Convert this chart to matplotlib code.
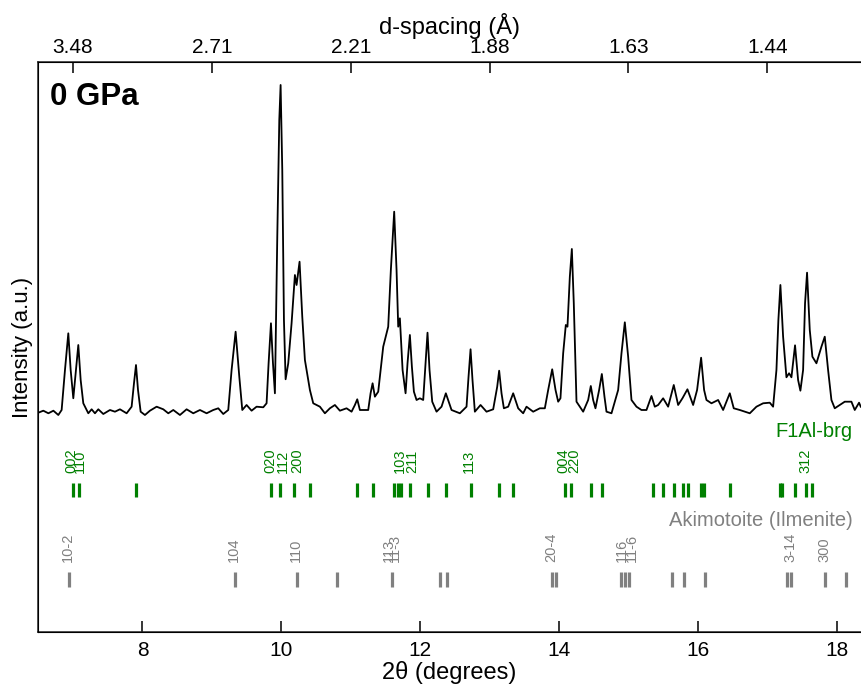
import matplotlib
matplotlib.use("Agg")
import matplotlib.pyplot as plt

plt.rcParams['font.family'] = ['Liberation Sans', 'DejaVu Sans']

# diffraction pattern (2theta in degrees, intensity a.u.)
tt = [6.500, 6.572, 6.645, 6.717, 6.788, 6.836, 6.884, 6.932, 6.966, 7.004,
      7.043, 7.076, 7.110, 7.148, 7.220, 7.268, 7.316, 7.364, 7.436, 7.532,
      7.604, 7.676, 7.772, 7.844, 7.878, 7.907, 7.936, 7.974, 8.036, 8.108,
      8.204, 8.300, 8.372, 8.444, 8.540, 8.636, 8.732, 8.828, 8.924, 9.020,
      9.092, 9.164, 9.236, 9.284, 9.342, 9.395, 9.438, 9.500, 9.572, 9.644,
      9.740, 9.788, 9.817, 9.851, 9.880, 9.908, 9.942, 9.971, 9.990, 10.014,
      10.038, 10.062, 10.100, 10.148, 10.196, 10.220, 10.263, 10.302, 10.340, 10.412,
      10.460, 10.556, 10.628, 10.700, 10.772, 10.844, 10.940, 11.012, 11.060, 11.094,
      11.132, 11.204, 11.252, 11.286, 11.315, 11.348, 11.396, 11.468, 11.540, 11.578,
      11.626, 11.660, 11.684, 11.708, 11.747, 11.790, 11.818, 11.852, 11.881, 11.910,
      11.948, 11.996, 12.044, 12.077, 12.106, 12.135, 12.174, 12.236, 12.308, 12.370,
      12.452, 12.572, 12.668, 12.697, 12.726, 12.754, 12.788, 12.870, 12.956, 13.052,
      13.110, 13.138, 13.172, 13.206, 13.268, 13.340, 13.412, 13.484, 13.532, 13.628,
      13.724, 13.796, 13.844, 13.902, 13.950, 13.988, 14.021, 14.060, 14.098, 14.122,
      14.156, 14.185, 14.213, 14.252, 14.348, 14.420, 14.458, 14.492, 14.525, 14.578,
      14.617, 14.655, 14.684, 14.756, 14.852, 14.900, 14.948, 14.996, 15.044, 15.116,
      15.188, 15.260, 15.332, 15.380, 15.428, 15.500, 15.572, 15.653, 15.716, 15.778,
      15.850, 15.932, 15.989, 16.047, 16.090, 16.124, 16.196, 16.292, 16.364, 16.460,
      16.517, 16.604, 16.748, 16.844, 16.940, 17.036, 17.084, 17.132, 17.160, 17.189,
      17.228, 17.276, 17.314, 17.348, 17.400, 17.444, 17.477, 17.516, 17.544, 17.573,
      17.612, 17.650, 17.708, 17.780, 17.828, 17.876, 17.924, 17.972, 18.044, 18.116,
      18.212, 18.260, 18.322, 18.346]
inten = [-1.7, 0.3, -2.3, 0.3, -4.0, 1.0, 41.0, 77.7, 41.0, 12.7,
         41.0, 66.0, 31.0, 7.7, -2.3, 1.7, -2.3, 1.7, -3.0, 1.0,
         -0.7, 1.7, -2.3, 4.3, 27.7, 46.0, 21.0, -0.7, -4.0, 0.3,
         4.3, 1.7, -2.3, 1.0, -4.0, 1.7, -2.3, 1.0, -2.3, 1.0,
         2.7, -3.0, 1.0, 41.0, 79.3, 34.3, 1.0, 6.0, 0.3, 4.3,
         3.7, 7.7, 47.7, 87.7, 47.7, 17.7, 174.0, 291.0, 326.0, 241.0,
         91.0, 31.7, 47.7, 87.7, 136.0, 126.0, 149.3, 94.3, 51.0, 21.0,
         7.7, 4.3, -2.3, 2.7, 6.0, 0.3, 2.7, -0.7, 6.0, 11.7,
         1.0, 1.0, 1.0, 17.7, 27.7, 14.3, 19.3, 64.3, 84.3, 141.0,
         199.3, 141.0, 84.3, 92.7, 41.0, 17.7, 47.7, 76.0, 44.3, 19.3,
         11.0, 12.7, 11.0, 47.7, 78.3, 41.0, 9.3, -0.7, 4.3, 17.7,
         1.0, -2.3, 4.3, 34.3, 61.7, 31.0, -0.7, 6.0, -0.7, 1.7,
         24.3, 40.3, 17.7, 2.7, 4.3, 17.7, 2.7, -2.3, 4.3, -0.7,
         2.7, 2.7, 21.0, 41.7, 21.0, 9.3, 12.7, 57.7, 86.0, 84.3,
         134.3, 162.0, 107.7, 9.3, -0.7, 11.0, 25.0, 11.0, 2.7, 21.0,
         37.0, 14.3, -0.7, -2.3, 21.0, 57.7, 88.7, 54.3, 11.0, 4.3,
         1.0, 1.0, 15.0, 4.3, 6.0, 12.7, 4.3, 26.0, 6.0, 12.7,
         21.7, 6.0, 21.0, 53.3, 21.0, 11.0, 7.7, 11.0, 1.0, 17.7,
         2.7, 1.0, -2.3, 4.3, 7.7, 8.3, 4.3, 41.0, 91.0, 126.0,
         74.3, 33.7, 37.7, 33.7, 65.7, 31.0, 20.3, 41.0, 107.7, 138.3,
         81.0, 54.3, 47.7, 64.3, 74.3, 41.0, 11.0, 2.7, 6.0, 9.3,
         9.3, 1.0, 8.3, 4.3]

# reflection positions (2theta)
brg_pos = [6.995, 7.082, 7.907, 9.855, 9.985, 10.186, 10.417, 11.093, 11.324,
           11.626, 11.675, 11.722, 11.852, 12.107, 12.370, 12.726, 13.138, 13.339,
           14.088, 14.175, 14.454, 14.617, 15.347, 15.500, 15.658, 15.779, 15.859,
           16.042, 16.085, 16.470, 17.180, 17.209, 17.400, 17.564, 17.650]
brg_hkl = ["002", "110", "020", "112", "200", "103", "211", "113", "004", "220", "312"]
brg_hkl_pos = [6.981, 7.100, 9.836, 10.028, 10.229, 11.708, 11.885, 12.706, 14.070,
               14.218, 17.550]

aki_pos = [6.942, 9.328, 10.220, 10.805, 11.593, 12.288, 12.380, 13.897, 13.954,
           14.900, 14.948, 15.005, 15.629, 15.802, 16.110, 17.285, 17.348, 17.838,
           18.130]
aki_hkl = ["10-2", "104", "110", "113", "11-3", "20-4", "116", "11-6", "3-14", "300"]
aki_hkl_pos = [6.932, 9.318, 10.206, 11.550, 11.636, 13.882, 14.900, 15.044, 17.338,
               17.828]

d_ticks = [7, 9, 11, 13, 15, 17]
d_labels = ["3.48", "2.71", "2.21", "1.88", "1.63", "1.44"]

green = "#008000"
grey = "#808080"

fig = plt.figure(figsize=(8.61, 6.89), dpi=100)
ax = fig.add_axes([0.0445, 0.0823, 0.9555, 0.8273])

ax.plot(tt, inten, color="black", lw=1.3, solid_joinstyle="round")

ax.vlines(brg_pos, -86, -72, color=green, lw=2.3)
for p, s in zip(brg_hkl_pos, brg_hkl):
    ax.text(p, -62, s, rotation=90, ha="center", va="bottom", color=green, fontsize=10.5)
ax.text(18.23, -21, "F1Al-brg", ha="right", va="center", color=green, fontsize=14.5)

ax.vlines(aki_pos, -176, -161, color=grey, lw=2.3)
for p, s in zip(aki_hkl_pos, aki_hkl):
    ax.text(p, -151, s, rotation=90, ha="center", va="bottom", color=grey, fontsize=10.5)
ax.text(18.23, -110, "Akimotoite (Ilmenite)", ha="right", va="center", color=grey,
        fontsize=14.5)

ax.text(0.014, 0.966, "0 GPa", transform=ax.transAxes, ha="left", va="top",
        fontsize=22.5, fontweight="bold")

ax.set_xlim(6.5, 18.35)
ax.set_ylim(-221.3, 348.7)
ax.set_xticks([8, 10, 12, 14, 16, 18])
ax.set_yticks([])
ax.tick_params(axis="x", direction="in", length=8, width=1.1, labelsize=15, pad=6)
ax.set_xlabel("2θ (degrees)", fontsize=17, labelpad=1)
ax.set_ylabel("Intensity (a.u.)", fontsize=16, labelpad=4)
ax.spines["right"].set_visible(False)
for s in ["left", "top", "bottom"]:
    ax.spines[s].set_linewidth(1.1)
    ax.spines[s].set_color("#222222")

top = ax.twiny()
top.set_xlim(ax.get_xlim())
top.set_xticks(d_ticks)
top.set_xticklabels(d_labels)
top.tick_params(axis="x", direction="in", length=8, width=1.1, labelsize=15, pad=4)
top.set_xlabel("d-spacing (Å)", fontsize=17, labelpad=3)
top.spines["right"].set_visible(False)

fig.savefig("out.png", dpi=100)
